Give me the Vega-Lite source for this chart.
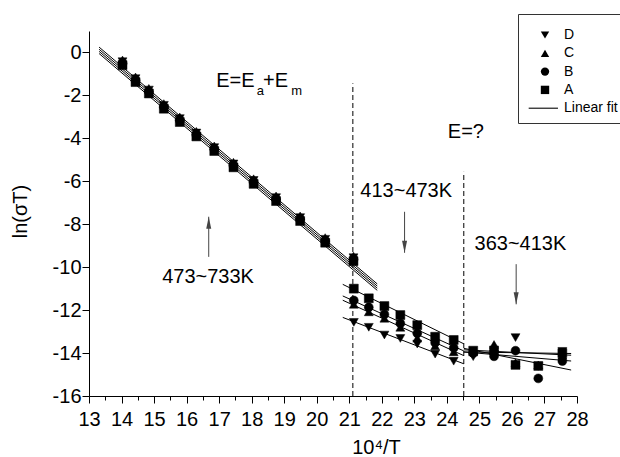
{
"$schema": "https://vega.github.io/schema/vega-lite/v6.json",
"width": 488, "height": 365,
"autosize": {"type": "none"},
"padding": {"left": 89, "top": 31, "right": 43, "bottom": 61},
"background": "white",
"config": {
  "view": {"stroke": null},
  "font": "Liberation Sans",
  "axis": {"domainColor": "black", "tickColor": "black", "labelColor": "black", "titleColor": "black", "labelFont": "Liberation Sans", "titleFont": "Liberation Sans", "labelFontSize": 20, "titleFontSize": 20, "titleFontWeight": "normal", "grid": false, "domainWidth": 1, "tickWidth": 1, "labelOverlap": false, "labelBound": false, "labelFlush": false}
},
"resolve": {"axis": {"x": "independent"}},
"datasets": {
  "pts": [
    {"sample":"A","x":14.03,"y":-0.59},{"sample":"A","x":14.43,"y":-1.38},{"sample":"A","x":14.84,"y":-1.91},{"sample":"A","x":15.30,"y":-2.62},{"sample":"A","x":15.79,"y":-3.24},{"sample":"A","x":16.30,"y":-3.91},{"sample":"A","x":16.85,"y":-4.59},{"sample":"A","x":17.44,"y":-5.35},{"sample":"A","x":18.06,"y":-6.12},{"sample":"A","x":18.75,"y":-6.92},{"sample":"A","x":19.49,"y":-7.85},{"sample":"A","x":20.26,"y":-8.86},{"sample":"A","x":21.13,"y":-9.72},
    {"sample":"A","x":21.14,"y":-11.0},{"sample":"A","x":21.60,"y":-11.45},{"sample":"A","x":22.08,"y":-11.81},{"sample":"A","x":22.57,"y":-12.23},{"sample":"A","x":23.09,"y":-12.70},{"sample":"A","x":23.64,"y":-13.24},{"sample":"A","x":24.21,"y":-13.39},
    {"sample":"A","x":24.81,"y":-13.89},{"sample":"A","x":25.45,"y":-13.88},{"sample":"A","x":26.11,"y":-14.55},{"sample":"A","x":26.81,"y":-14.60},{"sample":"A","x":27.55,"y":-14.0},
    {"sample":"B","x":14.03,"y":-0.51},{"sample":"B","x":14.43,"y":-1.30},{"sample":"B","x":14.84,"y":-1.83},{"sample":"B","x":15.30,"y":-2.54},{"sample":"B","x":15.79,"y":-3.16},{"sample":"B","x":16.30,"y":-3.83},{"sample":"B","x":16.85,"y":-4.51},{"sample":"B","x":17.44,"y":-5.27},{"sample":"B","x":18.06,"y":-6.04},{"sample":"B","x":18.75,"y":-6.84},{"sample":"B","x":19.49,"y":-7.77},{"sample":"B","x":20.26,"y":-8.78},{"sample":"B","x":21.13,"y":-9.64},
    {"sample":"B","x":21.14,"y":-11.55},{"sample":"B","x":21.60,"y":-11.87},{"sample":"B","x":22.08,"y":-12.20},{"sample":"B","x":22.57,"y":-12.62},{"sample":"B","x":23.09,"y":-13.08},{"sample":"B","x":23.64,"y":-13.52},{"sample":"B","x":24.21,"y":-13.76},
    {"sample":"B","x":24.81,"y":-14.0},{"sample":"B","x":25.45,"y":-14.15},{"sample":"B","x":26.11,"y":-13.89},{"sample":"B","x":26.81,"y":-15.18},{"sample":"B","x":27.55,"y":-14.37},
    {"sample":"C","x":14.03,"y":-0.35},{"sample":"C","x":14.43,"y":-1.14},{"sample":"C","x":14.84,"y":-1.67},{"sample":"C","x":15.30,"y":-2.38},{"sample":"C","x":15.79,"y":-3.00},{"sample":"C","x":16.30,"y":-3.67},{"sample":"C","x":16.85,"y":-4.35},{"sample":"C","x":17.44,"y":-5.11},{"sample":"C","x":18.06,"y":-5.88},{"sample":"C","x":18.75,"y":-6.68},{"sample":"C","x":19.49,"y":-7.61},{"sample":"C","x":20.26,"y":-8.62},{"sample":"C","x":21.13,"y":-9.48},
    {"sample":"C","x":21.14,"y":-11.73},{"sample":"C","x":21.60,"y":-12.08},{"sample":"C","x":22.08,"y":-12.38},{"sample":"C","x":22.57,"y":-12.80},{"sample":"C","x":23.09,"y":-13.31},{"sample":"C","x":23.64,"y":-13.67},{"sample":"C","x":24.21,"y":-13.94},
    {"sample":"C","x":24.81,"y":-13.95},{"sample":"C","x":25.45,"y":-13.60},{"sample":"C","x":26.11,"y":-14.45},{"sample":"C","x":26.81,"y":-14.55},{"sample":"C","x":27.55,"y":-14.10},
    {"sample":"D","x":14.03,"y":-0.43},{"sample":"D","x":14.43,"y":-1.22},{"sample":"D","x":14.84,"y":-1.75},{"sample":"D","x":15.30,"y":-2.46},{"sample":"D","x":15.79,"y":-3.08},{"sample":"D","x":16.30,"y":-3.75},{"sample":"D","x":16.85,"y":-4.43},{"sample":"D","x":17.44,"y":-5.19},{"sample":"D","x":18.06,"y":-5.96},{"sample":"D","x":18.75,"y":-6.76},{"sample":"D","x":19.49,"y":-7.69},{"sample":"D","x":20.26,"y":-8.70},{"sample":"D","x":21.13,"y":-9.56},
    {"sample":"D","x":21.14,"y":-12.57},{"sample":"D","x":21.60,"y":-12.80},{"sample":"D","x":22.08,"y":-13.16},{"sample":"D","x":22.57,"y":-13.32},{"sample":"D","x":23.09,"y":-13.58},{"sample":"D","x":23.64,"y":-14.05},{"sample":"D","x":24.21,"y":-14.38},
    {"sample":"D","x":24.81,"y":-14.17},{"sample":"D","x":25.45,"y":-14.05},{"sample":"D","x":26.11,"y":-13.28},{"sample":"D","x":26.81,"y":-14.62},{"sample":"D","x":27.55,"y":-13.92}
  ],
  "fits": [
    {"sample":"C","x1":13.31,"y1":0.25,"x2":21.86,"y2":-10.78},
    {"sample":"D","x1":13.31,"y1":0.15,"x2":21.86,"y2":-10.88},
    {"sample":"B","x1":13.31,"y1":0.05,"x2":21.86,"y2":-10.98},
    {"sample":"A","x1":13.31,"y1":-0.05,"x2":21.86,"y2":-11.08},
    {"sample":"A","x1":20.80,"y1":-10.80,"x2":24.52,"y2":-13.57},
    {"sample":"B","x1":20.80,"y1":-11.34,"x2":24.52,"y2":-13.90},
    {"sample":"C","x1":20.80,"y1":-11.54,"x2":24.52,"y2":-14.12},
    {"sample":"D","x1":20.80,"y1":-12.34,"x2":24.52,"y2":-14.50},
    {"sample":"D","x1":24.52,"y1":-13.95,"x2":27.82,"y2":-14.02},
    {"sample":"C","x1":24.52,"y1":-13.85,"x2":27.82,"y2":-14.10},
    {"sample":"B","x1":24.52,"y1":-13.95,"x2":27.82,"y2":-14.37},
    {"sample":"A","x1":24.52,"y1":-13.78,"x2":27.82,"y2":-14.79}
  ],
  "dashes": [
    {"x":21.11,"ylo":-16,"yhi":-1.44},
    {"x":24.52,"ylo":-16,"yhi":-5.56}
  ],
  "arrows": [
    {"dir":"up","x":16.68,"tail":-9.52,"tip":-7.65},
    {"dir":"down","x":22.70,"tail":-7.42,"tip":-9.33},
    {"dir":"down","x":26.13,"tail":-9.86,"tip":-11.73}
  ],
  "notes": [
    {"t":"E=E","x":16.91,"y":-1.60},
    {"t":"+E","x":18.35,"y":-1.60},
    {"t":"E=?","x":24.03,"y":-4.0},
    {"t":"413~473K","x":21.34,"y":-6.75},
    {"t":"473~733K","x":15.25,"y":-10.73},
    {"t":"363~413K","x":24.85,"y":-9.20}
  ],
  "subs": [
    {"t":"a","x":18.16,"y":-1.99},
    {"t":"m","x":19.22,"y":-1.99}
  ]
},
"layer": [
  {
    "data": {"name": "fits"},
    "mark": {"type": "rule", "color": "black", "strokeWidth": 1},
    "encoding": {
      "x": {"field": "x1", "type": "quantitative", "scale": {"domain": [13, 28], "nice": false, "zero": false},
        "axis": {"orient": "bottom", "title": "10⁴/T", "values": [13,14,15,16,17,18,19,20,21,22,23,24,25,26,27,28],
          "format": "d", "labelOverlap": false, "labelBound": false, "labelFlush": false, "labelSeparation": -20,
          "tickSize": 7, "labelPadding": 6, "titleX": 287, "titleY": 57, "titleAlign": "center", "titleBaseline": "alphabetic", "titleAnchor": null}},
      "y": {"field": "y1", "type": "quantitative", "scale": {"domain": [-16, 1], "nice": false, "zero": false},
        "axis": {"title": "ln(σT)", "values": [-16,-15,-14,-13,-12,-11,-10,-9,-8,-7,-6,-5,-4,-3,-2,-1,0,1],
          "labelExpr": "datum.value % 2 === 0 ? '' + datum.value : ''",
          "labelOverlap": false, "labelBound": false, "labelFlush": false,
          "tickSize": {"condition": {"test": "datum.value % 2 === 0", "value": 7}, "value": 4},
          "labelPadding": 1, "titleX": -69, "titleY": 180, "titleAngle": -90, "titleAlign": "center", "titleBaseline": "middle", "titleAnchor": null}},
      "x2": {"field": "x2"},
      "y2": {"field": "y2"}
    }
  },
  {
    "data": {"name": "dashes"},
    "mark": {"type": "rule", "color": "black", "strokeWidth": 1, "strokeDash": [5, 3]},
    "encoding": {
      "x": {"field": "x", "type": "quantitative",
        "axis": {"orient": "bottom", "values": [13.5,14.5,15.5,16.5,17.5,18.5,19.5,20.5,21.5,22.5,23.5,24.5,25.5,26.5,27.5],
          "labels": false, "domain": false, "title": null, "tickSize": 4}},
      "y": {"field": "ylo", "type": "quantitative"},
      "y2": {"field": "yhi"}
    }
  },
  {
    "data": {"name": "arrows"},
    "mark": {"type": "rule", "color": "#444", "strokeWidth": 1},
    "encoding": {
      "x": {"field": "x", "type": "quantitative", "axis": null},
      "y": {"field": "tail", "type": "quantitative"},
      "y2": {"field": "tip"}
    }
  },
  {
    "data": {"name": "arrows"},
    "transform": [{"filter": "datum.dir === 'up'"}],
    "mark": {"type": "point", "shape": "M0,0L-0.5,2.4L0.5,2.4Z", "filled": true, "color": "#444", "size": 100, "opacity": 1},
    "encoding": {
      "x": {"field": "x", "type": "quantitative", "axis": null},
      "y": {"field": "tip", "type": "quantitative"}
    }
  },
  {
    "data": {"name": "arrows"},
    "transform": [{"filter": "datum.dir === 'down'"}],
    "mark": {"type": "point", "shape": "M0,0L-0.5,-2.4L0.5,-2.4Z", "filled": true, "color": "#444", "size": 100, "opacity": 1},
    "encoding": {
      "x": {"field": "x", "type": "quantitative", "axis": null},
      "y": {"field": "tip", "type": "quantitative"}
    }
  },
  {
    "data": {"name": "pts"},
    "mark": {"type": "point", "filled": true, "color": "black", "stroke": "black", "strokeWidth": 0.5, "size": 80, "opacity": 1},
    "encoding": {
      "x": {"field": "x", "type": "quantitative", "axis": null},
      "y": {"field": "y", "type": "quantitative"},
      "shape": {"field": "sample", "type": "nominal",
        "scale": {"domain": ["D", "C", "B", "A", "Linear fit"], "range": ["triangle-down", "triangle-up", "circle", "square", "M-3.9,-0.13L3.1,-0.13L3.1,0.13L-3.9,0.13Z"]},
        "legend": {"title": " ", "titleFontSize": 1, "titlePadding": 6, "orient": "none", "legendX": 429, "legendY": -17,
          "strokeColor": "#333", "fillColor": "white", "padding": 7, "symbolOffset": 13, "labelOffset": 12, "rowPadding": 4.3,
          "symbolSize": 70, "symbolFillColor": "black", "symbolStrokeColor": "black", "symbolStrokeWidth": 0,
          "labelFontSize": 14, "labelFont": "Liberation Sans", "labelColor": "black", "cornerRadius": 0,
          "encode": {"symbols": {"update": {"fill": {"value": "black"}, "opacity": {"value": 1}, "fillOpacity": {"value": 1}}}}}
      }
    }
  },
  {
    "data": {"name": "notes"},
    "mark": {"type": "text", "align": "left", "baseline": "alphabetic", "fontSize": 20, "font": "Liberation Sans", "color": "black"},
    "encoding": {
      "x": {"field": "x", "type": "quantitative", "axis": null},
      "y": {"field": "y", "type": "quantitative"},
      "text": {"field": "t"}
    }
  },
  {
    "data": {"name": "subs"},
    "mark": {"type": "text", "align": "left", "baseline": "alphabetic", "fontSize": 13, "font": "Liberation Sans", "color": "black"},
    "encoding": {
      "x": {"field": "x", "type": "quantitative", "axis": null},
      "y": {"field": "y", "type": "quantitative"},
      "text": {"field": "t"}
    }
  }
]
}
